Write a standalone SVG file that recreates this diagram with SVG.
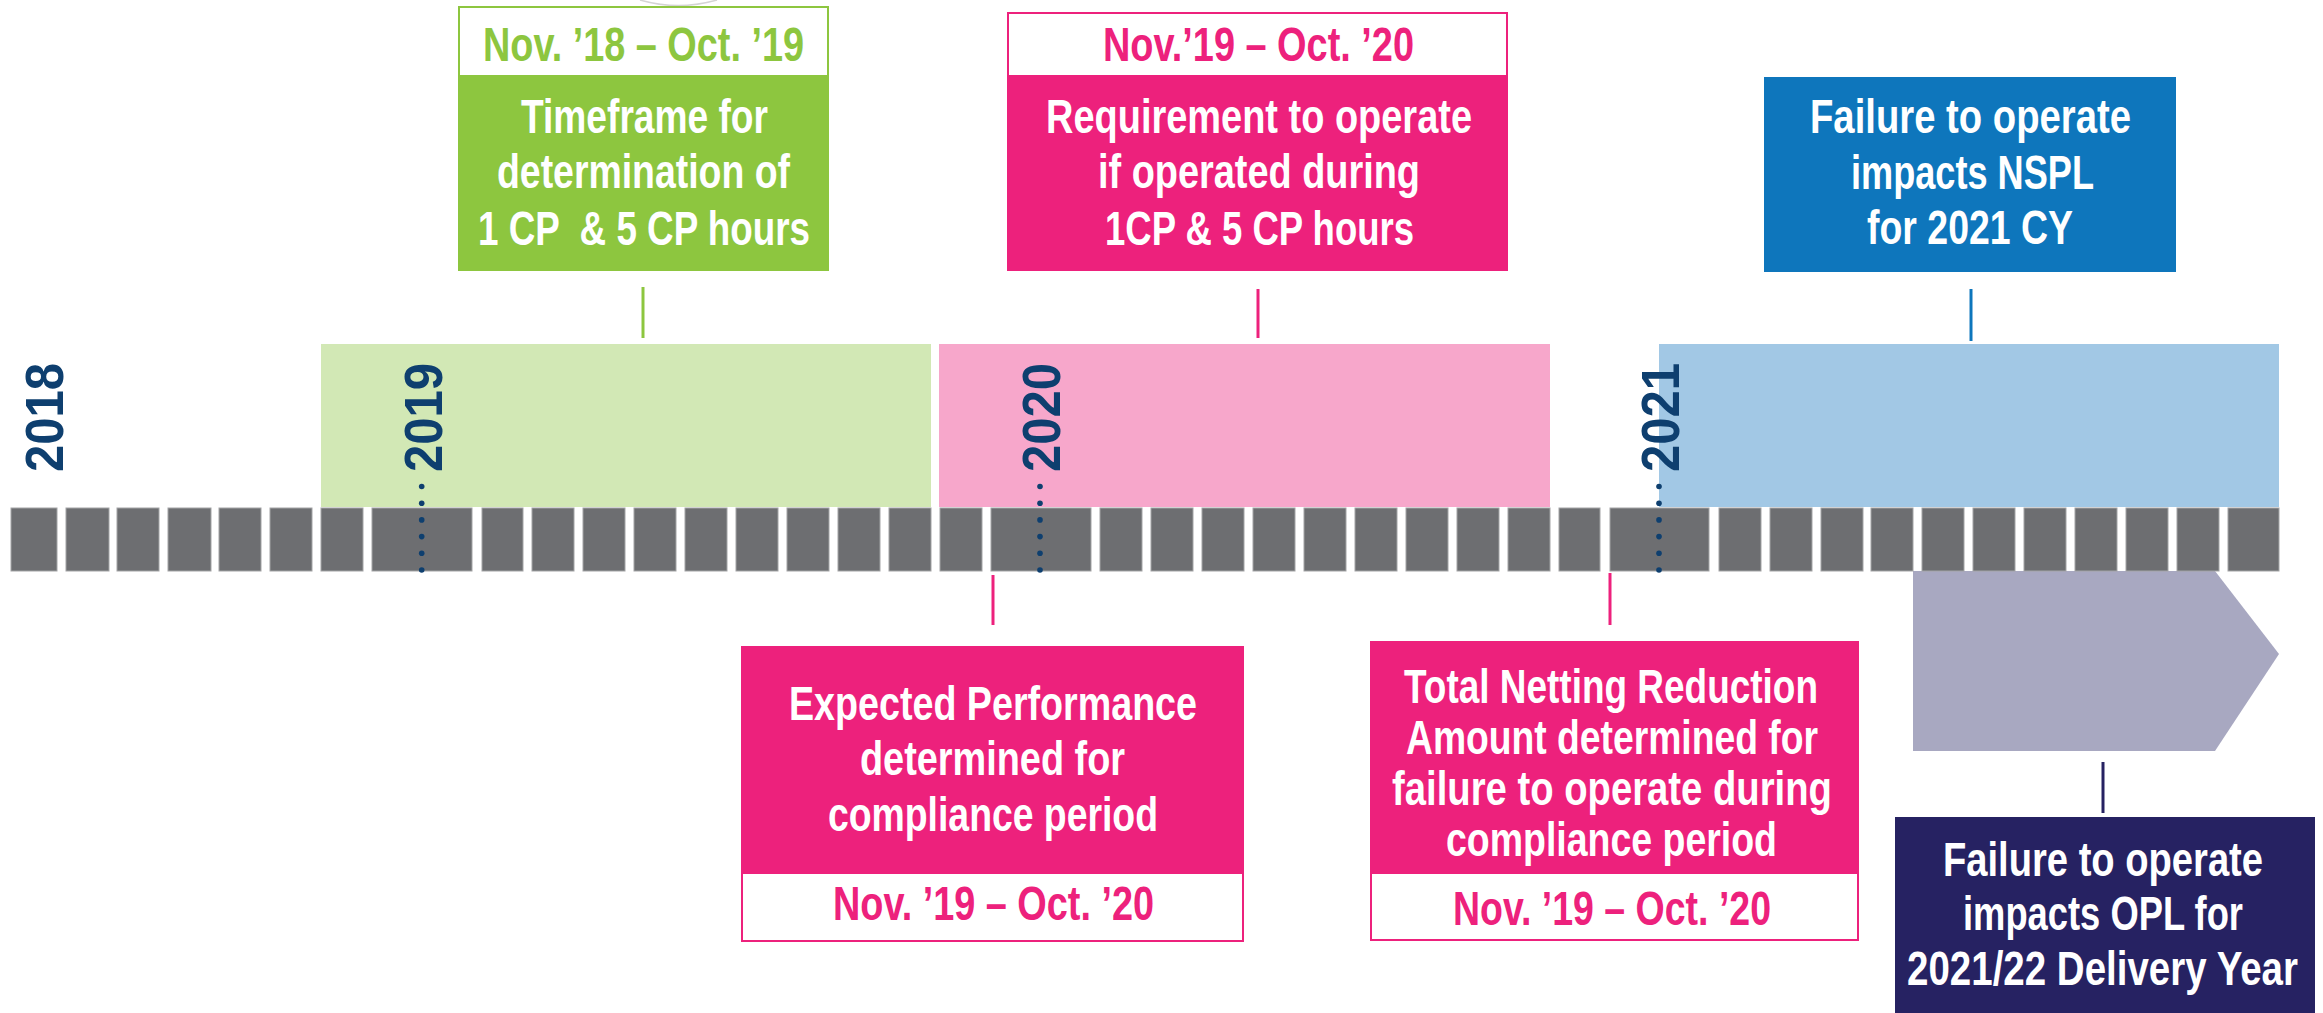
<svg xmlns="http://www.w3.org/2000/svg" width="2323" height="1013" viewBox="0 0 2323 1013">
<style>
.t{font-family:'Liberation Sans',Arial,sans-serif;font-weight:bold;font-size:49px;white-space:pre}
.w{fill:#ffffff}
.g{fill:#8dc63f}
.p{fill:#ed217c}
.yr{font-family:'Liberation Sans',Arial,sans-serif;font-weight:bold;font-size:54px;fill:#0e3f6f}
.blk{fill:#6d6e71;stroke:#a3a4a6;stroke-width:1}
.dot{fill:#0e3f6f}
.cn{stroke-width:3;fill:none}
</style>
<rect x="0" y="0" width="2323" height="1013" fill="#ffffff"/>
<path d="M640 0 Q678 11 717 0" fill="none" stroke="#d4d4d4" stroke-width="1.5"/>

<g id="bands">
<rect x="321" y="344" width="610" height="163" fill="#d2e8b5"/>
<rect x="939" y="344" width="611" height="163" fill="#f7a7cb"/>
<rect x="1659" y="344" width="620" height="163" fill="#a2c8e5"/>
</g>

<g id="years">
<text class="yr" transform="translate(63,472) rotate(-90)" textLength="109" lengthAdjust="spacingAndGlyphs">2018</text>
<text class="yr" transform="translate(442,472) rotate(-90)" textLength="109" lengthAdjust="spacingAndGlyphs">2019</text>
<text class="yr" transform="translate(1060,472) rotate(-90)" textLength="109" lengthAdjust="spacingAndGlyphs">2020</text>
<text class="yr" transform="translate(1679,472) rotate(-90)" textLength="109" lengthAdjust="spacingAndGlyphs">2021</text>
</g>

<g id="arrow-opl">
<polygon points="1913,571 2215,571 2279,654 2215,751 1913,751" fill="#a8a8c1"/>
</g>

<g id="timeline">
<rect class="blk" x="11" y="508" width="46" height="63"/>
<rect class="blk" x="66" y="508" width="43" height="63"/>
<rect class="blk" x="117" y="508" width="42" height="63"/>
<rect class="blk" x="168" y="508" width="43" height="63"/>
<rect class="blk" x="219" y="508" width="42" height="63"/>
<rect class="blk" x="270" y="508" width="42" height="63"/>
<rect class="blk" x="321" y="508" width="42" height="63"/>
<rect class="blk" x="372" y="508" width="100" height="63"/>
<rect class="blk" x="482" y="508" width="41" height="63"/>
<rect class="blk" x="532" y="508" width="42" height="63"/>
<rect class="blk" x="583" y="508" width="42" height="63"/>
<rect class="blk" x="634" y="508" width="42" height="63"/>
<rect class="blk" x="685" y="508" width="42" height="63"/>
<rect class="blk" x="736" y="508" width="42" height="63"/>
<rect class="blk" x="787" y="508" width="42" height="63"/>
<rect class="blk" x="838" y="508" width="42" height="63"/>
<rect class="blk" x="889" y="508" width="42" height="63"/>
<rect class="blk" x="940" y="508" width="42" height="63"/>
<rect class="blk" x="991" y="508" width="100" height="63"/>
<rect class="blk" x="1100" y="508" width="42" height="63"/>
<rect class="blk" x="1151" y="508" width="42" height="63"/>
<rect class="blk" x="1202" y="508" width="42" height="63"/>
<rect class="blk" x="1253" y="508" width="42" height="63"/>
<rect class="blk" x="1304" y="508" width="42" height="63"/>
<rect class="blk" x="1355" y="508" width="42" height="63"/>
<rect class="blk" x="1406" y="508" width="42" height="63"/>
<rect class="blk" x="1457" y="508" width="42" height="63"/>
<rect class="blk" x="1508" y="508" width="42" height="63"/>
<rect class="blk" x="1559" y="508" width="41" height="63"/>
<rect class="blk" x="1610" y="508" width="99" height="63"/>
<rect class="blk" x="1719" y="508" width="42" height="63"/>
<rect class="blk" x="1770" y="508" width="42" height="63"/>
<rect class="blk" x="1821" y="508" width="42" height="63"/>
<rect class="blk" x="1871" y="508" width="42" height="63"/>
<rect class="blk" x="1922" y="508" width="42" height="63"/>
<rect class="blk" x="1973" y="508" width="42" height="63"/>
<rect class="blk" x="2024" y="508" width="42" height="63"/>
<rect class="blk" x="2075" y="508" width="42" height="63"/>
<rect class="blk" x="2126" y="508" width="42" height="63"/>
<rect class="blk" x="2177" y="508" width="42" height="63"/>
<rect class="blk" x="2228" y="508" width="51" height="63"/>
</g>

<g id="year-dots">
<circle class="dot" cx="421.7" cy="486.5" r="2.8"/><circle class="dot" cx="421.7" cy="503.2" r="2.8"/><circle class="dot" cx="421.7" cy="519.9" r="2.8"/><circle class="dot" cx="421.7" cy="536.6" r="2.8"/><circle class="dot" cx="421.7" cy="553.3" r="2.8"/><circle class="dot" cx="421.7" cy="570" r="2.8"/>
<circle class="dot" cx="1040" cy="486.5" r="2.8"/><circle class="dot" cx="1040" cy="503.2" r="2.8"/><circle class="dot" cx="1040" cy="519.9" r="2.8"/><circle class="dot" cx="1040" cy="536.6" r="2.8"/><circle class="dot" cx="1040" cy="553.3" r="2.8"/><circle class="dot" cx="1040" cy="570" r="2.8"/>
<circle class="dot" cx="1659" cy="486.5" r="2.8"/><circle class="dot" cx="1659" cy="503.2" r="2.8"/><circle class="dot" cx="1659" cy="519.9" r="2.8"/><circle class="dot" cx="1659" cy="536.6" r="2.8"/><circle class="dot" cx="1659" cy="553.3" r="2.8"/><circle class="dot" cx="1659" cy="570" r="2.8"/>
</g>

<g id="connectors">
<line class="cn" x1="643" y1="287" x2="643" y2="338" stroke="#8dc63f"/>
<line class="cn" x1="1258" y1="289" x2="1258" y2="338" stroke="#ed217c"/>
<line class="cn" x1="1971" y1="289" x2="1971" y2="341" stroke="#0e76bc"/>
<line class="cn" x1="993" y1="575" x2="993" y2="625" stroke="#ed217c"/>
<line class="cn" x1="1610" y1="573" x2="1610" y2="625" stroke="#ed217c"/>
<line class="cn" x1="2103" y1="762" x2="2103" y2="813" stroke="#262262"/>
</g>

<g id="node-timeframe">
<rect x="459" y="7" width="369" height="69" fill="#ffffff" stroke="#8dc63f" stroke-width="2"/>
<rect x="458" y="76" width="371" height="195" fill="#8dc63f"/>
<text class="t g" x="483" y="61" textLength="321" lengthAdjust="spacingAndGlyphs">Nov. ’18 – Oct. ’19</text>
<text class="t w" x="521" y="133" textLength="247" lengthAdjust="spacingAndGlyphs">Timeframe for</text>
<text class="t w" x="497" y="188" textLength="293" lengthAdjust="spacingAndGlyphs">determination of</text>
<text class="t w" x="478" y="245" textLength="332" lengthAdjust="spacingAndGlyphs">1 CP  &amp; 5 CP hours</text>
</g>

<g id="node-requirement">
<rect x="1008" y="13" width="499" height="63" fill="#ffffff" stroke="#ed217c" stroke-width="2"/>
<rect x="1007" y="76" width="501" height="195" fill="#ed217c"/>
<text class="t p" x="1103" y="61" textLength="311" lengthAdjust="spacingAndGlyphs">Nov.’19 – Oct. ’20</text>
<text class="t w" x="1046" y="133" textLength="426" lengthAdjust="spacingAndGlyphs">Requirement to operate</text>
<text class="t w" x="1098" y="188" textLength="322" lengthAdjust="spacingAndGlyphs">if operated during</text>
<text class="t w" x="1105" y="245" textLength="309" lengthAdjust="spacingAndGlyphs">1CP &amp; 5 CP hours</text>
</g>

<g id="node-nspl">
<rect x="1764" y="77" width="412" height="195" fill="#0e76bc"/>
<text class="t w" x="1810" y="133" textLength="321" lengthAdjust="spacingAndGlyphs">Failure to operate</text>
<text class="t w" x="1851" y="189" textLength="243" lengthAdjust="spacingAndGlyphs">impacts NSPL</text>
<text class="t w" x="1867" y="244" textLength="206" lengthAdjust="spacingAndGlyphs">for 2021 CY</text>
</g>

<g id="node-expected">
<rect x="741" y="646" width="503" height="227" fill="#ed217c"/>
<rect x="742" y="873" width="501" height="68" fill="#ffffff" stroke="#ed217c" stroke-width="2"/>
<text class="t w" x="789" y="720" textLength="408" lengthAdjust="spacingAndGlyphs">Expected Performance</text>
<text class="t w" x="860" y="775" textLength="265" lengthAdjust="spacingAndGlyphs">determined for</text>
<text class="t w" x="828" y="831" textLength="330" lengthAdjust="spacingAndGlyphs">compliance period</text>
<text class="t p" x="833" y="920" textLength="321" lengthAdjust="spacingAndGlyphs">Nov. ’19 – Oct. ’20</text>
</g>

<g id="node-netting">
<rect x="1370" y="641" width="489" height="232" fill="#ed217c"/>
<rect x="1371" y="873" width="487" height="67" fill="#ffffff" stroke="#ed217c" stroke-width="2"/>
<text class="t w" x="1404" y="703" textLength="414" lengthAdjust="spacingAndGlyphs">Total Netting Reduction</text>
<text class="t w" x="1406" y="754" textLength="412" lengthAdjust="spacingAndGlyphs">Amount determined for</text>
<text class="t w" x="1392" y="805" textLength="440" lengthAdjust="spacingAndGlyphs">failure to operate during</text>
<text class="t w" x="1446" y="856" textLength="331" lengthAdjust="spacingAndGlyphs">compliance period</text>
<text class="t p" x="1453" y="925" textLength="318" lengthAdjust="spacingAndGlyphs">Nov. ’19 – Oct. ’20</text>
</g>

<g id="node-opl">
<rect x="1895" y="817" width="420" height="196" fill="#262262"/>
<text class="t w" x="1943" y="876" textLength="320" lengthAdjust="spacingAndGlyphs">Failure to operate</text>
<text class="t w" x="1963" y="930" textLength="280" lengthAdjust="spacingAndGlyphs">impacts OPL for</text>
<text class="t w" x="1907" y="985" textLength="391" lengthAdjust="spacingAndGlyphs">2021/22 Delivery Year</text>
</g>
</svg>
